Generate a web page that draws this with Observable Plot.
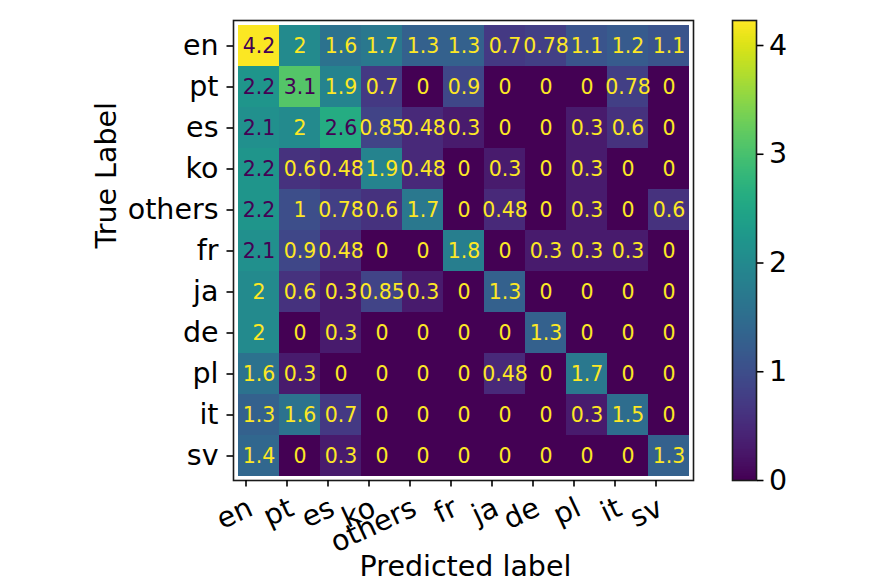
<!DOCTYPE html>
<html>
<head>
<meta charset="utf-8">
<script src="https://cdn.jsdelivr.net/npm/d3@7"></script>
<script src="https://cdn.jsdelivr.net/npm/@observablehq/plot@0.6"></script>
<style>
  html, body { margin: 0; padding: 0; background: #ffffff; }
  #wrap { position: relative; width: 872px; height: 581px; font-family: "DejaVu Sans", sans-serif; }
  #wrap svg { position: absolute; top: 0; overflow: visible; }
</style>
</head>
<body>
<div id="wrap"></div>
<script>
// Category labels (rows = true label, columns = predicted label)
const labels = ["en", "pt", "es", "ko", "others", "fr", "ja", "de", "pl", "it", "sv"];

// Matrix values, one row per true label (as annotated in the cells)
const rowEn     = [4.2, 2,   1.6,  1.7,  1.3,  1.3, 0.7,  0.78, 1.1, 1.2,  1.1];
const rowPt     = [2.2, 3.1, 1.9,  0.7,  0,    0.9, 0,    0,    0,   0.78, 0];
const rowEs     = [2.1, 2,   2.6,  0.85, 0.48, 0.3, 0,    0,    0.3, 0.6,  0];
const rowKo     = [2.2, 0.6, 0.48, 1.9,  0.48, 0,   0.3,  0,    0.3, 0,    0];
const rowOthers = [2.2, 1,   0.78, 0.6,  1.7,  0,   0.48, 0,    0.3, 0,    0.6];
const rowFr     = [2.1, 0.9, 0.48, 0,    0,    1.8, 0,    0.3,  0.3, 0.3,  0];
const rowJa     = [2,   0.6, 0.3,  0.85, 0.3,  0,   1.3,  0,    0,   0,    0];
const rowDe     = [2,   0,   0.3,  0,    0,    0,   0,    1.3,  0,   0,    0];
const rowPl     = [1.6, 0.3, 0,    0,    0,    0,   0.48, 0,    1.7, 0,    0];
const rowIt     = [1.3, 1.6, 0.7,  0,    0,    0,   0,    0,    0.3, 1.5,  0];
const rowSv     = [1.4, 0,   0.3,  0,    0,    0,   0,    0,    0,   0,    1.3];
const rows = [rowEn, rowPt, rowEs, rowKo, rowOthers, rowFr, rowJa, rowDe, rowPl, rowIt, rowSv];

// Colour bar
const colorMax = 4.23;
const colorTicks = [0, 1, 2, 3, 4];
const textThreshold = 2.05;

const xTitle = "Predicted label";
const yTitle = "True Label";

const table = [];
rows.forEach((r, i) => r.forEach((v, j) => table.push({truth: labels[i], pred: labels[j], value: v})));

const fmt = d3.format(".2~g");
const FONT = "DejaVu Sans";
const dark = "#440154", light = "#fde725";
const LBL = 28.5;

const main = Plot.plot({
  width: 872,
  height: 581,
  marginLeft: 233,
  marginRight: 179,
  marginTop: 20,
  marginBottom: 101,
  style: {fontFamily: FONT, background: "transparent", color: "black"},
  x: {type: "band", domain: labels, padding: 0, axis: null},
  y: {type: "band", domain: labels, padding: 0, axis: null},
  color: {type: "linear", scheme: "viridis", domain: [0, colorMax]},
  marks: [
    Plot.cell(table, {x: "pred", y: "truth", fill: "value", shapeRendering: "crispEdges"}),
    Plot.text(table, {
      x: "pred", y: "truth", text: d => fmt(d.value),
      fill: d => d.value > textThreshold ? dark : light,
      fontSize: 20.5, fontFamily: FONT
    }),
    Plot.frame({stroke: "#1a1a1a", strokeWidth: 1.6}),
    Plot.axisY({
      tickSize: 6.5, tickPadding: 8.5, fontSize: LBL, strokeWidth: 1.6,
      label: null, fill: "black"
    }),
    Plot.axisX({
      tickSize: 6.5, tickPadding: 9, fontSize: LBL, strokeWidth: 1.6,
      tickRotate: -25, textAnchor: "end", lineAnchor: "top", dx: -13,
      label: null, fill: "black"
    }),
    Plot.text([xTitle], {
      text: d => d, frameAnchor: "bottom", dy: 95, dx: 2,
      lineAnchor: "bottom", fontSize: LBL, fontFamily: FONT, fill: "black"
    }),
    Plot.text([yTitle], {
      text: d => d, frameAnchor: "left", dx: -118, dy: -2, rotate: -90,
      lineAnchor: "bottom", fontSize: LBL, fontFamily: FONT, fill: "black"
    })
  ]
});

// Colour bar
const nSteps = 256;
const steps = d3.range(nSteps).map(i => ({y1: i * colorMax / nSteps, y2: (i + 1) * colorMax / nSteps}));
const bar = Plot.plot({
  width: 140,
  height: 581,
  marginLeft: 0,
  marginRight: 116,
  marginTop: 20,
  marginBottom: 101,
  style: {fontFamily: FONT, background: "transparent", color: "black"},
  x: {domain: [0, 1], axis: null},
  y: {domain: [0, colorMax], axis: null},
  color: {type: "linear", scheme: "viridis", domain: [0, colorMax]},
  marks: [
    Plot.rect(steps, {x1: 0, x2: 1, y1: "y1", y2: "y2", fill: d => (d.y1 + d.y2) / 2, inset: 0, insetTop: -0.5, shapeRendering: "crispEdges"}),
    Plot.frame({stroke: "#1a1a1a", strokeWidth: 1.6}),
    Plot.axisY({
      anchor: "right", ticks: colorTicks, tickFormat: d3.format("d"),
      tickSize: 6.5, tickPadding: 6, fontSize: LBL, strokeWidth: 1.6,
      label: null, fill: "black"
    })
  ]
});

const wrap = document.getElementById("wrap");
main.style.left = "0px";
bar.style.left = "732px";
wrap.appendChild(main);
wrap.appendChild(bar);
</script>
</body>
</html>
